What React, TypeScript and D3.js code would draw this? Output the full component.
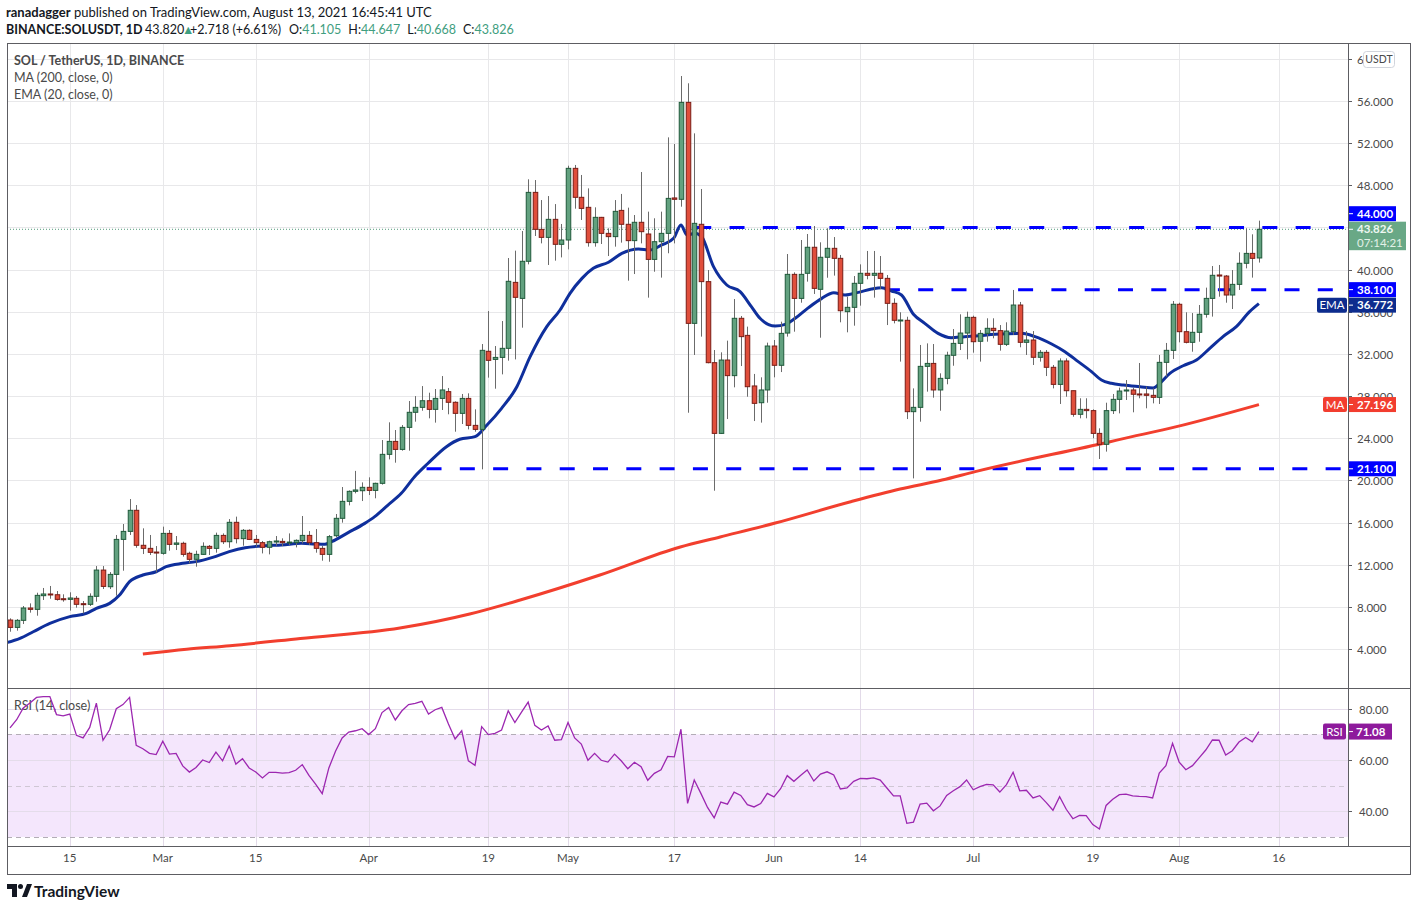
import React, { useEffect, useRef } from 'react';
import * as d3 from 'd3';

// SOL / USDT daily candles, Feb 6 2021 .. Aug 13 2021
const firstDay = Date.UTC(2021, 1, 6);
const DAY = 86400000;

const open = [
  6.75, 6.05, 6.72, 7.89, 7.76, 9.06, 9.22, 9.15, 8.77, 8.71,
  8.81, 8.30, 8.24, 9.00, 11.49, 9.91, 11.08, 14.40, 15.16, 17.16,
  13.84, 13.55, 13.20, 13.08, 14.97, 13.93, 14.03, 13.08, 12.51, 12.98,
  13.74, 13.55, 14.78, 14.18, 16.02, 14.47, 15.26, 14.40, 14.09, 13.65,
  14.15, 14.21, 14.09, 14.09, 14.28, 14.78, 14.09, 13.55, 12.98, 14.75,
  16.40, 18.01, 18.96, 19.02, 19.34, 19.05, 19.72, 22.47, 23.70, 22.94,
  25.03, 26.46, 26.93, 27.56, 26.74, 27.78, 28.42, 27.41, 26.36, 27.78,
  25.22, 24.84, 32.25, 31.48, 31.67, 32.53, 38.79, 37.27, 40.79, 47.33,
  43.82, 43.06, 44.77, 42.40, 42.81, 49.61, 46.86, 45.91, 42.56, 44.96,
  43.44, 43.13, 45.62, 44.30, 42.75, 44.49, 43.38, 40.97, 42.65, 43.44,
  46.80, 46.67, 55.87, 34.90, 44.30, 38.86, 31.17, 24.46, 31.42, 29.94,
  35.38, 33.76, 28.96, 27.37, 28.58, 32.75, 30.92, 33.98, 39.55, 37.27,
  39.65, 42.12, 38.13, 41.17, 42.02, 41.07, 36.01, 36.42, 38.70, 39.65,
  39.46, 39.65, 39.17, 36.80, 35.19, 35.19, 26.52, 26.93, 30.82, 31.10,
  28.58, 29.68, 31.87, 33.00, 33.98, 35.47, 33.20, 33.95, 34.43, 34.21,
  32.91, 34.11, 36.64, 33.10, 33.32, 31.68, 32.15, 30.73, 29.11, 31.33,
  28.51, 26.27, 26.74, 26.62, 24.46, 23.42, 26.62, 27.69, 28.48, 28.58,
  28.20, 28.20, 28.07, 27.88, 31.20, 32.34, 36.71, 34.11, 33.10, 34.05,
  35.76, 37.27, 39.49, 39.39, 37.59, 38.60, 40.60, 41.54, 41.105
];
const high = [
  6.91, 6.84, 8.08, 8.33, 9.34, 9.79, 9.98, 9.50, 9.19, 9.38,
  9.03, 8.55, 9.28, 11.87, 11.87, 11.30, 14.82, 15.86, 18.23, 17.66,
  15.45, 14.82, 13.77, 15.61, 15.29, 14.72, 14.18, 13.23, 13.33, 14.12,
  13.87, 15.04, 14.97, 16.33, 16.56, 15.38, 15.35, 14.82, 14.25, 14.28,
  14.72, 14.50, 14.97, 14.40, 16.62, 15.19, 15.38, 13.77, 14.82, 16.81,
  19.37, 19.05, 20.90, 19.81, 20.29, 19.78, 23.83, 25.51, 24.78, 25.25,
  27.53, 28.00, 28.95, 28.32, 28.67, 29.90, 28.77, 27.50, 28.20, 28.26,
  26.74, 32.94, 36.07, 32.75, 35.12, 41.10, 41.80, 43.66, 48.57, 48.50,
  46.60, 46.98, 46.22, 44.33, 49.86, 49.93, 48.98, 47.71, 45.91, 45.00,
  43.92, 46.60, 47.18, 45.88, 45.18, 49.26, 45.50, 44.87, 45.50, 52.55,
  51.92, 58.37, 57.68, 52.93, 47.65, 39.96, 32.37, 32.15, 33.26, 37.21,
  35.60, 34.59, 30.10, 29.78, 33.07, 33.32, 35.06, 41.48, 39.74, 42.81,
  43.38, 44.14, 42.59, 43.92, 43.09, 41.39, 37.43, 39.39, 40.50, 41.77,
  41.77, 41.29, 39.49, 37.27, 35.95, 35.53, 28.73, 32.85, 33.00, 32.94,
  30.16, 32.21, 34.36, 35.76, 36.01, 35.63, 34.27, 35.38, 35.38, 34.74,
  35.00, 38.07, 36.93, 34.17, 34.17, 32.37, 32.37, 30.95, 31.58, 31.58,
  28.51, 27.79, 27.79, 26.74, 24.94, 27.37, 28.20, 28.80, 29.52, 28.80,
  31.14, 28.90, 28.73, 31.90, 33.04, 37.02, 36.86, 35.95, 35.88, 36.64,
  38.29, 40.34, 40.44, 39.49, 39.96, 41.64, 43.92, 43.35, 44.647
];
const low = [
  5.64, 5.74, 6.37, 7.45, 7.16, 8.65, 8.77, 8.59, 8.49, 7.64,
  7.92, 7.38, 8.08, 8.49, 9.69, 9.69, 9.06, 11.43, 14.82, 13.61,
  13.01, 12.92, 11.27, 12.95, 13.33, 13.39, 12.76, 12.13, 11.81, 12.92,
  12.92, 13.14, 13.96, 13.61, 14.02, 13.80, 14.34, 13.71, 13.07, 12.98,
  13.80, 13.77, 13.87, 13.64, 14.02, 13.87, 13.14, 12.38, 12.28, 14.59,
  15.99, 17.63, 18.77, 18.04, 18.61, 18.30, 19.60, 21.99, 21.68, 22.82,
  22.82, 25.57, 26.61, 25.89, 25.48, 26.68, 26.27, 24.62, 25.35, 24.84,
  24.62, 21.05, 29.75, 28.70, 30.06, 31.36, 31.48, 34.49, 40.50, 43.19,
  42.49, 40.44, 40.85, 41.16, 41.92, 45.78, 44.71, 42.18, 42.18, 42.43,
  41.29, 42.18, 42.56, 38.95, 39.58, 42.49, 37.34, 39.80, 39.24, 41.55,
  42.49, 45.97, 26.42, 31.90, 33.64, 31.11, 19.02, 24.40, 25.82, 28.83,
  30.85, 27.94, 25.63, 25.48, 27.37, 29.78, 30.28, 33.64, 34.11, 36.86,
  38.86, 37.69, 33.54, 39.23, 39.43, 35.00, 34.05, 34.68, 36.58, 39.08,
  37.34, 38.16, 34.74, 34.90, 31.27, 25.82, 20.19, 25.57, 28.42, 27.85,
  26.61, 29.12, 30.88, 32.37, 31.49, 32.12, 31.27, 33.16, 33.48, 32.31,
  32.75, 33.80, 32.63, 31.90, 30.95, 31.27, 29.90, 28.73, 27.25, 27.94,
  26.04, 25.89, 25.89, 23.99, 22.03, 22.73, 26.30, 26.36, 27.63, 26.46,
  27.79, 26.84, 27.31, 27.25, 29.84, 31.52, 33.10, 33.00, 32.21, 33.16,
  35.44, 35.54, 37.43, 36.86, 36.26, 38.07, 40.12, 39.24, 40.668
];
const close = [
  6.05, 6.72, 7.89, 7.76, 9.09, 9.22, 9.15, 8.71, 8.71, 8.84,
  8.24, 8.24, 9.00, 11.49, 9.94, 11.08, 14.40, 15.16, 17.16, 13.84,
  13.55, 13.17, 13.11, 14.97, 13.93, 14.06, 12.98, 12.51, 12.98, 13.74,
  13.55, 14.78, 14.18, 16.02, 14.47, 15.26, 14.40, 14.09, 13.65, 14.18,
  14.25, 14.09, 14.15, 14.31, 14.78, 14.09, 13.55, 12.98, 14.66, 16.40,
  18.01, 18.96, 19.09, 19.34, 19.05, 19.72, 22.47, 23.70, 22.94, 25.03,
  26.46, 26.93, 27.56, 26.74, 27.78, 28.58, 27.41, 26.36, 27.78, 25.22,
  24.84, 32.34, 31.39, 31.67, 32.53, 38.89, 37.37, 40.79, 47.33, 43.82,
  43.06, 44.77, 42.40, 42.81, 49.61, 46.86, 45.81, 42.56, 44.96, 43.44,
  43.13, 45.53, 44.30, 42.75, 44.49, 43.60, 40.97, 42.65, 43.44, 46.76,
  46.67, 55.87, 34.90, 44.39, 38.86, 31.17, 24.46, 31.42, 29.94, 35.38,
  33.64, 28.89, 27.31, 28.58, 32.75, 30.92, 33.95, 39.55, 37.27, 39.55,
  42.12, 38.22, 41.17, 42.02, 41.07, 36.10, 36.42, 38.70, 39.65, 39.46,
  39.65, 39.17, 36.80, 35.19, 35.22, 26.52, 26.93, 30.82, 31.10, 28.58,
  29.68, 31.87, 33.00, 33.98, 35.47, 33.16, 33.95, 34.43, 34.21, 32.91,
  34.17, 36.64, 33.10, 33.32, 31.68, 32.15, 30.73, 29.11, 31.33, 28.51,
  26.27, 26.74, 26.62, 24.46, 23.42, 26.62, 27.69, 28.48, 28.58, 28.17,
  28.13, 28.07, 27.88, 31.20, 32.34, 36.71, 34.11, 33.10, 34.05, 35.76,
  37.27, 39.46, 39.39, 37.59, 38.60, 40.60, 41.54, 41.07, 43.826
];

// RSI(14) per candle
const rsi = [
  72.5, 75.7, 80.3, 82.2, 84.4, 84.7, 84.7, 77.7, 77.2, 77.9,
  69.6, 68.6, 72.7, 82.2, 67.7, 71.8, 80.0, 81.6, 84.4, 65.7,
  64.4, 62.6, 62.1, 67.3, 62.3, 62.6, 57.7, 55.3, 57.1, 60.0,
  59.0, 63.1, 59.7, 65.5, 58.4, 60.5, 56.9, 55.3, 53.0, 55.2,
  55.2, 54.9, 55.1, 56.0, 58.2, 54.0, 50.6, 46.9, 56.9, 63.4,
  68.6, 70.9, 71.4, 72.2, 69.9, 72.2, 78.5, 80.5, 75.6, 79.2,
  81.6, 82.1, 82.9, 77.9, 79.6, 80.5, 74.0, 68.2, 71.4, 59.7,
  57.9, 73.0, 69.9, 70.4, 71.7, 79.2, 74.6, 78.7, 82.6, 73.5,
  71.7, 73.3, 67.7, 67.9, 74.6, 68.6, 66.2, 59.9, 62.6, 59.9,
  59.2, 62.3, 59.7, 56.6, 59.1, 57.4, 52.1, 54.8, 56.2, 61.4,
  61.2, 72.0, 43.1, 52.2, 47.0, 41.5, 37.4, 43.6, 42.8, 47.5,
  46.2, 42.6, 41.7, 43.0, 47.0, 45.6, 48.8, 53.9, 51.7, 54.0,
  56.1, 51.8, 54.5, 55.4, 54.2, 48.7, 49.1, 51.7, 52.85, 52.7,
  53.0, 52.2, 49.1, 46.0, 46.0, 35.3, 35.8, 42.8, 43.2, 40.2,
  42.1, 46.2, 48.0, 49.6, 52.2, 48.4, 49.6, 50.5, 50.3, 47.5,
  50.4, 55.2, 48.0, 48.2, 45.2, 46.1, 43.4, 40.4, 45.7, 40.8,
  37.1, 38.4, 38.3, 34.8, 33.1, 42.3, 44.7, 46.5, 46.7, 46.0,
  45.8, 45.7, 45.2, 54.9, 57.8, 66.5, 59.2, 56.2, 57.8, 60.8,
  63.9, 67.8, 67.7, 61.9, 63.6, 67.0, 68.8, 67.1, 71.08
];

// EMA(20) and MA(200) (days after Feb 6)
const emaDay = [
  -0.5, 1.5, 3.5, 6, 9, 11.5, 13, 15, 16.5, 18, 20, 22, 23.5, 26, 28, 30.5, 33,
  35.4, 38.4, 40.9, 43.9, 45.9, 47.4, 48.4, 50.9, 53.4, 54.9, 56.9, 58.9, 60.9,
  62.9, 65.7, 67.7, 70, 71.8, 74, 76.3, 78.3, 80.8, 82.8, 84.3, 86.1, 87.8, 90.1,
  92.1, 94.6, 96.3, 98.1, 99.9, 101, 101.9, 103.1, 104.1, 105.9, 107.9, 109.9,
  111.6, 112.9, 115.2, 116.7, 118.2, 120.2, 122.2, 124, 125.7, 127.7, 129.7,
  131.2, 132.7, 134.2, 136, 137.7, 139.7, 141.7, 143.7, 145.3, 148.3, 152.3,
  154.3, 156.8, 158.8, 160.8, 162.8, 164.3, 165.8, 167.6, 170.1, 172.1, 173.1,
  174.6, 176.6, 178.6, 180.6, 182.6, 184.6, 186.6, 188
];
const emaValue = [
  4.6, 5.01, 5.64, 6.43, 7.07, 7.38, 7.86, 8.33, 9.12, 10.39, 11.02, 11.33, 11.81, 12.13, 12.29, 12.7, 13.24,
  13.61, 13.8, 13.87, 14.03, 13.96, 13.93, 14.18, 15.04, 15.92, 16.56, 17.66, 18.77, 20.35,
  21.6, 23.2, 23.9, 24.15, 25.25, 26.84, 28.89, 31.74, 34.59, 36.17, 37.75, 39.17, 40.12, 40.7,
  41.54, 41.96, 41.86, 42.34, 42.97, 44.23, 43.28, 43.44, 43.13, 40.28, 38.54, 37.91,
  36.49, 35.38, 34.65, 34.8, 35.38, 36.39, 37.27, 37.81, 37.59, 37.84, 38.16,
  38.29, 37.97, 37.59, 35.76, 34.9, 33.95, 33.54, 33.64, 33.7, 33.86, 33.95,
  33.64, 32.94, 32.21, 31.27, 30.32, 29.52, 29.21, 29.05, 28.89, 28.77, 29.21,
  30.16, 30.88, 31.42, 32.53, 33.64, 34.59, 36.01, 36.772
];
const maDay = [20, 26.6, 33.1, 43.7, 58.7, 69.2, 76.8, 88.8, 100.9, 106.9, 115.2, 126.4, 134, 140.3, 145.3, 165.6, 167.1, 175.6, 188];
const maValue = [3.52, 3.97, 4.31, 5.0, 5.99, 7.32, 8.65, 11.02, 13.68, 14.63, 15.95, 17.95, 19.18, 20.03, 20.83, 23.67, 23.89, 25.1, 27.196];

// drawn horizontal levels
const levels = [44, 38.1, 21.1];
const levelFromDay = [103.3, 131.7, 62.7];

const priceTicks = [4, 8, 12, 16, 20, 24, 28, 32, 36, 40, 44, 48, 52, 56, 60];
const rsiTicks = [40, 60, 80];
const timeTicks = ['2021-02-15', '2021-03-01', '2021-03-15', '2021-04-01', '2021-04-19', '2021-05-01', '2021-05-17', '2021-06-01', '2021-06-14', '2021-07-01', '2021-07-19', '2021-08-01', '2021-08-16'];
const timeLabels = ['15', 'Mar', '15', 'Apr', '19', 'May', '17', 'Jun', '14', 'Jul', '19', 'Aug', '16'];

const FONT = "Lato, 'Open Sans', sans-serif";

export default function App() {
  const ref = useRef<SVGSVGElement>(null);

  useEffect(() => {
    const svg = d3.select(ref.current);
    svg.selectAll('*').remove();

    const left = 7, right = 1348, outerRight = 1410;
    const top = 43, paneSplit = 688, paneBottom = 846, bottom = 874;

    const day = (d: number) => new Date(firstDay + d * DAY);
    const x = d3.scaleUtc().domain([day(0), day(188)]).range([10, 1258.9]);
    const y = d3.scaleLinear().domain([4, 56]).range([649, 101]);
    const yr = d3.scaleLinear().domain([40, 80]).range([811.3, 708.7]);
    const step = x(day(1)) - x(day(0));
    const bw = step * 0.68;

    const defs = svg.append('defs');
    defs.append('clipPath').attr('id', 'clipMain').append('rect')
      .attr('x', left).attr('y', top).attr('width', right - left).attr('height', paneSplit - top);
    defs.append('clipPath').attr('id', 'clipRsi').append('rect')
      .attr('x', left).attr('y', paneSplit).attr('width', right - left).attr('height', paneBottom - paneSplit);
    // top price label is hidden under the currency badge
    defs.append('clipPath').attr('id', 'clipBadge').append('rect')
      .attr('x', right).attr('y', 0).attr('width', 15).attr('height', 80);

    svg.append('rect').attr('width', 1417).attr('height', 911).attr('fill', '#ffffff');

    //header
    const h1 = svg.append('text').attr('x', 6).attr('y', 17).attr('font-family', FONT)
      .attr('font-size', 13).attr('fill', '#131722');
    h1.append('tspan').attr('font-weight', 700).text('ranadagger');
    h1.append('tspan').text(' published on TradingView.com, August 13, 2021 16:45:41 UTC');

    const h2 = svg.append('g').attr('font-family', FONT).attr('font-size', 12.5).attr('fill', '#131722');
    h2.append('text').attr('x', 6).attr('y', 34).attr('font-weight', 700).text('BINANCE:SOLUSDT, 1D');
    h2.append('text').attr('x', 145).attr('y', 34).text('43.820');
    h2.append('text').attr('x', 182).attr('y', 34).attr('fill', '#3f9e80').text('▲');
    h2.append('text').attr('x', 190).attr('y', 34).text('+2.718 (+6.61%)');
    const ohlcKeys = ['O:', 'H:', 'L:', 'C:'];
    const ohlcVals = ['41.105', '44.647', '40.668', '43.826'];
    const ohlcText = h2.append('text').attr('x', 289).attr('y', 34);
    ohlcKeys.forEach((k, i) => {
      ohlcText.append('tspan').attr('dx', i === 0 ? 0 : 7).text(k);
      ohlcText.append('tspan').attr('fill', '#3f9e80').text(ohlcVals[i]);
    });

    //grid
    const grid = svg.append('g').attr('stroke', '#e8e8ea').attr('stroke-width', 1);
    priceTicks.forEach(t => {
      grid.append('line').attr('x1', left).attr('x2', right)
        .attr('y1', Math.round(y(t)) + 0.5).attr('y2', Math.round(y(t)) + 0.5);
    });
    timeTicks.forEach(t => {
      const px = Math.round(x(new Date(t + 'T00:00:00Z'))) + 0.5;
      grid.append('line').attr('x1', px).attr('x2', px).attr('y1', top).attr('y2', paneBottom);
    });

    //legend
    const leg = svg.append('g').attr('font-family', FONT).attr('font-size', 12.5).attr('fill', '#4a4a4a');
    leg.append('text').attr('x', 14).attr('y', 64.5).attr('font-weight', 700).text('SOL / TetherUS, 1D, BINANCE');
    leg.append('text').attr('x', 14).attr('y', 81.5).text('MA (200, close, 0)');
    leg.append('text').attr('x', 14).attr('y', 98.5).text('EMA (20, close, 0)');

    const main = svg.append('g').attr('clip-path', 'url(#clipMain)');

    //current price dotted line
    main.append('line').attr('x1', left).attr('x2', right)
      .attr('y1', y(close[188])).attr('y2', y(close[188]))
      .attr('stroke', '#4f9a78').attr('stroke-width', 1).attr('stroke-dasharray', '1,2');

    //levels
    levels.forEach((lv, k) => {
      main.append('line').attr('x1', x(day(levelFromDay[k]))).attr('x2', right)
        .attr('y1', y(lv)).attr('y2', y(lv))
        .attr('stroke', '#0000ff').attr('stroke-width', 3).attr('stroke-dasharray', '15,18.3');
    });

    //moving averages
    const smooth = d3.line().curve(d3.curveMonotoneX);
    const maPts = maDay.map((d, i) => [x(day(d)), y(maValue[i])] as [number, number]);
    main.append('path').attr('d', smooth(maPts))
      .attr('fill', 'none').attr('stroke', '#f23f2e').attr('stroke-width', 3);
    const emaPts = emaDay.map((d, i) => [x(day(d)), y(emaValue[i])] as [number, number]);
    main.append('path').attr('d', smooth(emaPts))
      .attr('fill', 'none').attr('stroke', '#0f2f9c').attr('stroke-width', 3);

    //candles
    const candles = main.append('g');
    close.forEach((c, i) => {
      const o = open[i];
      const up = c >= o;
      const cx = Math.round(x(day(i))) + 0.5;
      candles.append('line').attr('x1', cx).attr('x2', cx)
        .attr('y1', y(high[i])).attr('y2', y(low[i]))
        .attr('stroke', '#6b6b6b').attr('stroke-width', 1);
      const yTop = y(Math.max(o, c));
      const hgt = Math.max(1, Math.abs(y(o) - y(c)));
      candles.append('rect').attr('x', cx - bw / 2).attr('y', yTop)
        .attr('width', bw).attr('height', hgt)
        .attr('fill', up ? '#62a17f' : '#e04e3b')
        .attr('stroke', up ? '#1f5a3a' : '#7a1c15').attr('stroke-width', 1);
    });

    //RSI pane
    const rp = svg.append('g').attr('clip-path', 'url(#clipRsi)');
    rp.append('rect').attr('x', left).attr('width', right - left)
      .attr('y', yr(70)).attr('height', yr(30) - yr(70)).attr('fill', '#f4e6fc');
    rsiTicks.forEach(t => {
      rp.append('line').attr('x1', left).attr('x2', right)
        .attr('y1', Math.round(yr(t)) + 0.5).attr('y2', Math.round(yr(t)) + 0.5)
        .attr('stroke', '#e4dcea');
    });
    timeTicks.forEach(t => {
      const px = Math.round(x(new Date(t + 'T00:00:00Z'))) + 0.5;
      rp.append('line').attr('x1', px).attr('x2', px).attr('y1', paneSplit).attr('y2', paneBottom)
        .attr('stroke', '#e2dae8');
    });
    [70, 50, 30].forEach(t => {
      rp.append('line').attr('x1', left).attr('x2', right)
        .attr('y1', Math.round(yr(t)) + 0.5).attr('y2', Math.round(yr(t)) + 0.5)
        .attr('stroke', t === 50 ? '#cfc7d4' : '#b3adb6').attr('stroke-dasharray', '5,4');
    });
    rp.append('text').attr('x', 14).attr('y', 710).attr('font-family', FONT)
      .attr('font-size', 12.5).attr('fill', '#4a4a4a').text('RSI (14, close)');
    const rsiLine = d3.line<number>().x((_, i) => x(day(i))).y(v => yr(v));
    rp.append('path').attr('d', rsiLine(rsi)).attr('fill', 'none')
      .attr('stroke', '#9c27b0').attr('stroke-width', 1.3);

    //frame
    const frame = svg.append('g').attr('stroke', '#5d5d62').attr('stroke-width', 1).attr('fill', 'none');
    frame.append('rect').attr('x', left + 0.5).attr('y', top + 0.5)
      .attr('width', outerRight - left).attr('height', bottom - top);
    frame.append('line').attr('x1', right + 0.5).attr('x2', right + 0.5).attr('y1', top).attr('y2', paneBottom);
    frame.append('line').attr('x1', left).attr('x2', outerRight).attr('y1', paneSplit + 0.5).attr('y2', paneSplit + 0.5);
    frame.append('line').attr('x1', left).attr('x2', outerRight).attr('y1', paneBottom + 0.5).attr('y2', paneBottom + 0.5);

    //price axis
    const axis = svg.append('g').attr('font-family', FONT).attr('font-size', 11.5).attr('fill', '#4a4a4a');
    priceTicks.forEach(t => {
      const py = Math.round(y(t)) + 0.5;
      axis.append('line').attr('x1', right).attr('x2', right + 4).attr('y1', py).attr('y2', py).attr('stroke', '#5d5d62');
      const lbl = axis.append('text').attr('x', 1357).attr('y', py + 4).text(d3.format('.3f')(t));
      if (t === 60) lbl.attr('clip-path', 'url(#clipBadge)');
    });
    rsiTicks.forEach(t => {
      const py = Math.round(yr(t)) + 0.5;
      axis.append('line').attr('x1', right).attr('x2', right + 4).attr('y1', py).attr('y2', py).attr('stroke', '#5d5d62');
      axis.append('text').attr('x', 1359).attr('y', py + 4).text(d3.format('.2f')(t));
    });
    axis.append('rect').attr('x', 1363.5).attr('y', 51.5).attr('width', 31).attr('height', 16).attr('rx', 3)
      .attr('fill', '#fff').attr('stroke', '#d1d4dc');
    axis.append('text').attr('x', 1379).attr('y', 63).attr('text-anchor', 'middle').attr('font-size', 10.5).text('USDT');

    //time axis
    timeTicks.forEach((t, i) => {
      axis.append('text').attr('x', x(new Date(t + 'T00:00:00Z'))).attr('y', 862)
        .attr('text-anchor', 'middle').text(timeLabels[i]);
    });

    //price tags
    const tags = svg.append('g').attr('font-family', FONT).attr('font-size', 11.5).attr('font-weight', 700);
    const tag = (cy: number, fill: string, text: string, label?: string, labelW?: number) => {
      tags.append('rect').attr('x', right + 1).attr('y', cy - 7.5).attr('width', 47).attr('height', 15).attr('fill', fill);
      tags.append('line').attr('x1', right + 1).attr('x2', right + 5).attr('y1', cy).attr('y2', cy).attr('stroke', '#fff');
      tags.append('text').attr('x', 1357).attr('y', cy + 4).attr('fill', '#fff').text(text);
      if (label) {
        tags.append('rect').attr('x', right - (labelW as number) - 1).attr('y', cy - 7.5)
          .attr('width', labelW as number).attr('height', 15).attr('rx', 2).attr('fill', fill);
        tags.append('text').attr('x', right - 1 - (labelW as number) / 2).attr('y', cy + 4)
          .attr('text-anchor', 'middle').attr('fill', '#fff').attr('font-weight', 400).text(label);
      }
    };
    const curY = y(close[188]);
    const curTop = curY - 7.6;
    // current price + countdown
    tags.append('rect').attr('x', right + 1).attr('y', curTop).attr('width', 57).attr('height', 28.5).attr('fill', '#69a886');
    tags.append('line').attr('x1', right + 1).attr('x2', right + 5).attr('y1', curY).attr('y2', curY).attr('stroke', '#fff');
    tags.append('text').attr('x', 1357).attr('y', curY + 4).attr('fill', '#eef7f1').text(d3.format('.3f')(close[188]));
    tags.append('text').attr('x', 1357).attr('y', curY + 17.5).attr('fill', '#e3f1e8').attr('font-weight', 400).text('07:14:21');

    tag(curTop - 8, '#0000ff', d3.format('.3f')(levels[0]));
    tag(y(levels[1]), '#0000ff', d3.format('.3f')(levels[1]));
    const emaLast = emaValue[emaValue.length - 1];
    tag(Math.max(y(emaLast), y(levels[1]) + 15.5), '#0d2c8e', d3.format('.3f')(emaLast), 'EMA', 30);
    const maLast = maValue[maValue.length - 1];
    tag(y(maLast), '#f23d2f', d3.format('.3f')(maLast), 'MA', 24);
    tag(y(levels[2]), '#0000ff', d3.format('.3f')(levels[2]));

    const rsiLast = rsi[rsi.length - 1];
    const ry = yr(rsiLast);
    tags.append('rect').attr('x', right + 1).attr('y', ry - 8).attr('width', 43).attr('height', 16).attr('fill', '#8e1a9c');
    tags.append('line').attr('x1', right + 1).attr('x2', right + 5).attr('y1', ry).attr('y2', ry).attr('stroke', '#fff');
    tags.append('text').attr('x', 1356).attr('y', ry + 4).attr('fill', '#fff').text(d3.format('.2f')(rsiLast));
    tags.append('rect').attr('x', right - 25).attr('y', ry - 8).attr('width', 23).attr('height', 16).attr('rx', 2).attr('fill', '#8e1a9c');
    tags.append('text').attr('x', right - 13.5).attr('y', ry + 4).attr('text-anchor', 'middle')
      .attr('fill', '#fff').attr('font-weight', 400).text('RSI');

    //TradingView logo
    const logo = svg.append('g').attr('fill', '#131722');
    logo.append('path').attr('d', 'M7 884 H17 V897 H12 V889 H7 Z');
    logo.append('circle').attr('cx', 20.5).attr('cy', 886.5).attr('r', 2.5);
    logo.append('path').attr('d', 'M22 897 L27 884 H32 L27 897 Z');
    logo.append('text').attr('x', 34).attr('y', 897).attr('font-family', FONT)
      .attr('font-size', 15.5).attr('font-weight', 700).text('TradingView');
  }, []);

  return (
    <svg ref={ref} width={1417} height={911}
      style={{ position: 'absolute', left: 0, top: 0, display: 'block' }} />
  );
}
